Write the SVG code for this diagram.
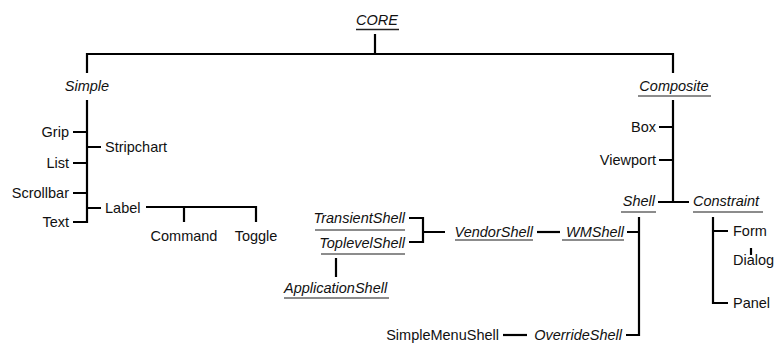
<svg xmlns="http://www.w3.org/2000/svg" width="778" height="347" viewBox="0 0 778 347">
  <style>
    text { font-family: "Liberation Sans", Arial, Helvetica, sans-serif; font-size: 14.5px; fill: #111; }
    .abs { font-style: italic; }
    .r { text-anchor: end; }
    .m { text-anchor: middle; }
    .ul { stroke: #666; stroke-width: 1.3; }
    .link { stroke: #000; stroke-width: 2.2; fill: none; }
  </style>
  <rect width="778" height="347" fill="#fff"/>

  <!-- connectors -->
  <g id="connectors" class="link">
    <!-- CORE to its two branches -->
    <path d="M375 34 V54 M87 73 V54 H673 V73"/>
    <!-- Simple subtree -->
    <path d="M87 100 V222 H73"/>
    <path d="M73 132 H87 M87 147 H101 M73 163 H87 M73 193 H87 M87 208 H101"/>
    <path d="M146 207 H256 V222 M184 207 V222"/>
    <!-- Composite subtree -->
    <path d="M673 100 V202 M659 127 H673 M659 160 H673 M658 202 H689"/>
    <!-- Constraint subtree -->
    <path d="M713 217 V303 H728 M713 231 H728 M751 248 V255"/>
    <!-- Shell subtree -->
    <path d="M639 217 V335 H626 M627 232 H639"/>
    <path d="M537 232 H560"/>
    <path d="M409 218 H423 V242 H409 M423 232 H445"/>
    <path d="M336 258 V277"/>
    <path d="M503 335 H527"/>
  </g>

  <g id="core">
    <text class="abs m" x="377" y="25">CORE</text>
    <line class="ul" x1="356" y1="29.5" x2="399" y2="29.5" style="stroke:#222"/>
  </g>

  <g id="simple"><text class="abs m" x="87" y="91">Simple</text></g>
  <g id="grip"><text class="r" x="69" y="137">Grip</text></g>
  <g id="stripchart"><text x="105" y="152">Stripchart</text></g>
  <g id="list"><text class="r" x="69" y="168">List</text></g>
  <g id="scrollbar"><text class="r" x="69" y="198">Scrollbar</text></g>
  <g id="text"><text class="r" x="69" y="227">Text</text></g>
  <g id="label"><text x="105" y="213">Label</text></g>
  <g id="command"><text class="m" x="184" y="241">Command</text></g>
  <g id="toggle"><text class="m" x="256" y="241">Toggle</text></g>

  <g id="composite">
    <text class="abs m" x="674" y="91">Composite</text>
    <line class="ul" x1="638" y1="96" x2="711" y2="96"/>
  </g>
  <g id="box"><text class="r" x="656" y="132">Box</text></g>
  <g id="viewport"><text class="r" x="656" y="165">Viewport</text></g>

  <g id="shell">
    <text class="abs r" x="655" y="206">Shell</text>
    <line class="ul" x1="621" y1="212" x2="656" y2="212"/>
  </g>
  <g id="constraint">
    <text class="abs" x="693" y="206">Constraint</text>
    <line class="ul" x1="693" y1="212" x2="763" y2="212"/>
  </g>
  <g id="form"><text x="733" y="236">Form</text></g>
  <g id="dialog"><text x="733" y="265">Dialog</text></g>
  <g id="panel"><text x="733" y="308">Panel</text></g>

  <g id="wmshell">
    <text class="abs r" x="624" y="237">WMShell</text>
    <line class="ul" x1="562" y1="240" x2="624" y2="240"/>
  </g>
  <g id="vendorshell">
    <text class="abs r" x="533" y="237">VendorShell</text>
    <line class="ul" x1="455" y1="240" x2="533" y2="240"/>
  </g>
  <g id="transientshell">
    <text class="abs r" x="405" y="223">TransientShell</text>
    <line class="ul" x1="315" y1="230" x2="405" y2="230"/>
  </g>
  <g id="toplevelshell">
    <text class="abs r" x="405" y="248">ToplevelShell</text>
    <line class="ul" x1="321" y1="254" x2="405" y2="254"/>
  </g>
  <g id="applicationshell">
    <text class="abs" x="284" y="293">ApplicationShell</text>
    <line class="ul" x1="284" y1="298" x2="389" y2="298"/>
  </g>
  <g id="overrideshell"><text class="abs r" x="622" y="340">OverrideShell</text></g>
  <g id="simplemenushell"><text class="r" x="499" y="340">SimpleMenuShell</text></g>
</svg>
